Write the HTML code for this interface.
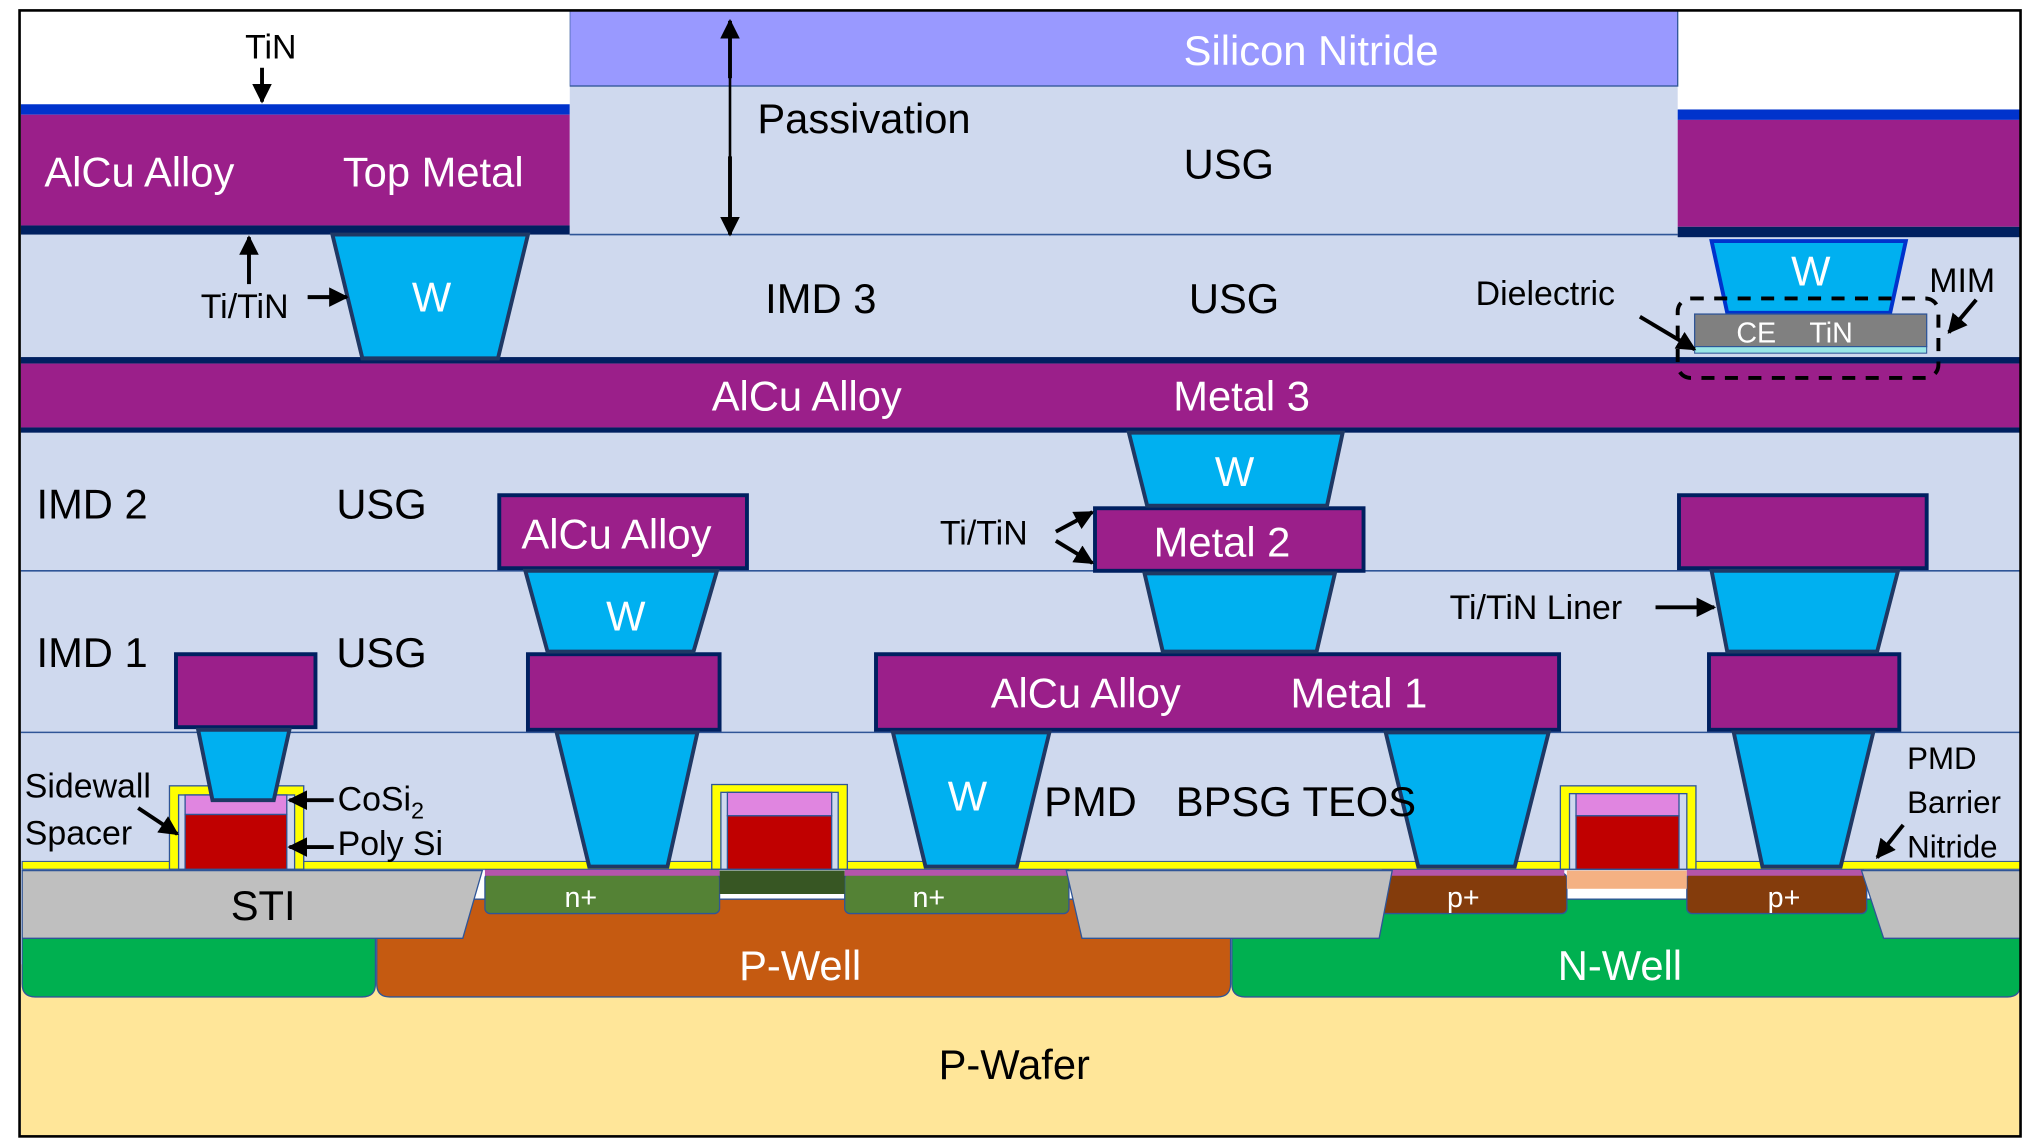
<!DOCTYPE html>
<html><head><style>html,body{margin:0;padding:0;background:#fff;}svg{display:block;}
text{font-family:"Liberation Sans",sans-serif;}</style></head><body>
<svg width="2044" height="1139" viewBox="0 0 1568 874" preserveAspectRatio="none" xmlns="http://www.w3.org/2000/svg">
<defs><marker id="ah" viewBox="0 0 10 10" refX="9" refY="5" markerWidth="5" markerHeight="5" orient="auto"><path d="M0,0L10,5L0,10z" fill="#000"/></marker></defs>
<rect x="0" y="0" width="1568" height="874" fill="#fff"/>
<rect x="16" y="740" width="1534" height="132" fill="#ffe699"/>
<path d="M17,700H288V755Q288,765 278,765H27Q17,765 17,755Z" fill="#00b050" stroke="#2f5597" stroke-width="1"/>
<path d="M289,690H944V755Q944,765 934,765H299Q289,765 289,755Z" fill="#c55a11" stroke="#2f5597" stroke-width="1"/>
<path d="M945,690H1550V755Q1550,765 1540,765H955Q945,765 945,755Z" fill="#00b050" stroke="#2f5597" stroke-width="1"/>
<rect x="16" y="180" width="1534" height="488" fill="#cfd9ee"/>
<rect x="437" y="8" width="850" height="172" fill="#cfd9ee"/>
<rect x="437" y="8" width="850" height="58" fill="#9999ff" stroke="#2f5597" stroke-width="1"/>
<g stroke="#2f5597" stroke-width="1.2">
<line x1="16" y1="438" x2="1550" y2="438"/><line x1="16" y1="562" x2="1550" y2="562"/>
<line x1="437" y1="180" x2="1287" y2="180"/>
</g>
<rect x="372" y="670" width="180" height="31" rx="4" fill="#548235" stroke="#2f5597"/>
<rect x="648" y="670" width="172" height="31" rx="4" fill="#548235" stroke="#2f5597"/>
<rect x="552" y="668" width="96" height="18" fill="#375623"/>
<rect x="1058" y="670" width="144" height="31" rx="4" fill="#843c0c" stroke="#2f5597"/>
<rect x="1294" y="670" width="138" height="31" rx="4" fill="#843c0c" stroke="#2f5597"/>
<rect x="1202" y="668" width="92" height="14" fill="#f4b183"/>
<rect x="372" y="666" width="180" height="6" fill="#b455aa"/>
<rect x="648" y="666" width="172" height="6" fill="#b455aa"/>
<rect x="1060" y="666" width="140" height="6" fill="#b455aa"/>
<rect x="1294" y="666" width="136" height="6" fill="#b455aa"/>
<g fill="#bfbfbf" stroke="#2f5597" stroke-width="1">
<path d="M17,668H370L355,720H17Z"/>
<path d="M818,668H1068L1058,720H830Z"/>
<path d="M1428,668H1550V720H1445Z"/>
</g>
<rect x="17" y="661" width="1533" height="6" fill="#ffff00" stroke="#2f5597" stroke-width="0.8"/>
<g stroke="#2f5597" stroke-width="1">
<rect x="130" y="603" width="103" height="64" fill="#ffff00"/>
<rect x="137" y="610" width="89" height="57" fill="#cfd9ee"/>
<rect x="142" y="610" width="78" height="15" fill="#e085e0"/><rect x="142" y="625" width="78" height="42" fill="#c00000"/>
<rect x="546" y="602" width="104" height="65" fill="#ffff00"/>
<rect x="553" y="608" width="90" height="59" fill="#cfd9ee"/>
<rect x="558" y="608" width="80" height="18" fill="#e085e0"/><rect x="558" y="626" width="80" height="41" fill="#c00000"/>
<rect x="1197" y="603" width="104" height="64" fill="#ffff00"/>
<rect x="1204" y="609" width="90" height="58" fill="#cfd9ee"/>
<rect x="1209" y="609" width="79" height="17" fill="#e085e0"/><rect x="1209" y="626" width="79" height="41" fill="#c00000"/>
</g>
<rect x="16" y="8" width="421" height="72" fill="#fff"/>
<rect x="16" y="80" width="421" height="8" fill="#0033cc"/>
<rect x="16" y="88" width="421" height="85" fill="#9b1f8a"/>
<rect x="16" y="173" width="421" height="7" fill="#002060"/>
<rect x="1287" y="84" width="263" height="8" fill="#0033cc"/>
<rect x="1287" y="92" width="263" height="82" fill="#9b1f8a"/>
<rect x="1287" y="174" width="263" height="8" fill="#002060"/>
<rect x="16" y="274" width="1534" height="5" fill="#002060"/>
<rect x="16" y="279" width="1534" height="49" fill="#9b1f8a"/>
<rect x="16" y="328" width="1534" height="4" fill="#002060"/>
<g fill="#9b1f8a" stroke="#002060" stroke-width="3">
<rect x="383" y="380" width="190" height="56"/>
<rect x="840" y="390" width="206" height="48"/>
<rect x="1288" y="380" width="190" height="56"/>
<rect x="135" y="502" width="107" height="56"/>
<rect x="405" y="502" width="147" height="58"/>
<rect x="672" y="502" width="524" height="58"/>
<rect x="1311" y="502" width="146" height="58"/>
</g>
<g fill="#00b0f0" stroke="#1f3864" stroke-width="3">
<path d="M255,180H405L382,275H278Z"/>
<path d="M1313,185H1462L1450,240H1325Z" stroke="#0033cc"/>
<path d="M866,332H1030L1018,388H880Z"/>
<path d="M878,440H1024L1010,500H892Z"/>
<path d="M403,438H550L532,500H420Z"/>
<path d="M1313,438H1456L1440,500H1325Z"/>
<path d="M152,560H222L210,614H163Z"/>
<path d="M427,562H535L512,665H452Z"/>
<path d="M685,562H805L780,665H710Z"/>
<path d="M1063,562H1188L1162,665H1088Z"/>
<path d="M1330,562H1437L1412,665H1352Z"/>
</g>
<rect x="1300" y="241" width="178" height="25" fill="#808080" stroke="#2f5597"/>
<rect x="1300" y="266" width="178" height="5" fill="#99e6e6" stroke="#2f5597" stroke-width="0.8"/>
<rect x="1287" y="229" width="200" height="61" rx="10" fill="none" stroke="#000" stroke-width="3" stroke-dasharray="10,8"/>
<rect x="15" y="8" width="1535" height="864" fill="none" stroke="#000" stroke-width="2"/>
<g stroke="#000" stroke-width="3" marker-end="url(#ah)">
<line x1="201" y1="52" x2="201" y2="78"/>
<line x1="191" y1="218" x2="191" y2="182"/>
<line x1="236" y1="228" x2="266" y2="228"/>
<line x1="560" y1="60" x2="560" y2="16"/>
<line x1="560" y1="120" x2="560" y2="180"/>
<line x1="1258" y1="243" x2="1300" y2="268"/>
<line x1="1516" y1="230" x2="1495" y2="255"/>
<line x1="810" y1="408" x2="838" y2="393"/>
<line x1="810" y1="415" x2="838" y2="432"/>
<line x1="1270" y1="466" x2="1315" y2="466"/>
<line x1="256" y1="614" x2="222" y2="614"/>
<line x1="256" y1="650" x2="222" y2="650"/>
<line x1="106" y1="620" x2="136" y2="640"/>
<line x1="1460" y1="633" x2="1440" y2="658"/>
</g>
<line x1="560" y1="16" x2="560" y2="180" stroke="#000" stroke-width="2"/>
<g font-size="32" fill="#fff">
<text x="34" y="143">AlCu Alloy</text><text x="263" y="143">Top Metal</text>
<text x="316" y="239">W</text><text x="1374" y="219">W</text>
<text x="546" y="315">AlCu Alloy</text><text x="900" y="315">Metal 3</text>
<text x="932" y="373">W</text>
<text x="400" y="421">AlCu Alloy</text><text x="885" y="427">Metal 2</text>
<text x="465" y="484">W</text>
<text x="760" y="543">AlCu Alloy</text><text x="990" y="543">Metal 1</text>
<text x="727" y="622">W</text>
<text x="567" y="752">P-Well</text><text x="1195" y="752">N-Well</text>
<text x="908" y="50">Silicon Nitride</text>
</g>
<g font-size="22" fill="#fff"><text x="433" y="696">n+</text><text x="700" y="696">n+</text>
<text x="1110" y="696">p+</text><text x="1356" y="696">p+</text>
<text x="1332" y="263">CE</text><text x="1388" y="263">TiN</text></g>
<g font-size="32" fill="#000">
<text x="581" y="102">Passivation</text><text x="908" y="137">USG</text>
<text x="587" y="240">IMD 3</text><text x="912" y="240">USG</text>
<text x="28" y="398">IMD 2</text><text x="258" y="398">USG</text>
<text x="28" y="512">IMD 1</text><text x="258" y="512">USG</text>
<text x="801" y="626">PMD</text><text x="902" y="626">BPSG TEOS</text>
<text x="177" y="706">STI</text><text x="720" y="828">P-Wafer</text>
</g>
<g font-size="26" fill="#000">
<text x="188" y="45">TiN</text><text x="154" y="244">Ti/TiN</text>
<text x="1132" y="234">Dielectric</text><text x="1480" y="224">MIM</text>
<text x="721" y="418">Ti/TiN</text><text x="1112" y="475">Ti/TiN Liner</text>
<text x="19" y="612">Sidewall</text><text x="19" y="648">Spacer</text>
<text x="259" y="622">CoSi<tspan font-size="18" dy="6">2</tspan></text><text x="259" y="656">Poly Si</text>
<text x="1463" y="590" font-size="24">PMD</text><text x="1463" y="624" font-size="24">Barrier</text><text x="1463" y="658" font-size="24">Nitride</text>
</g>
</svg>
</body></html>
